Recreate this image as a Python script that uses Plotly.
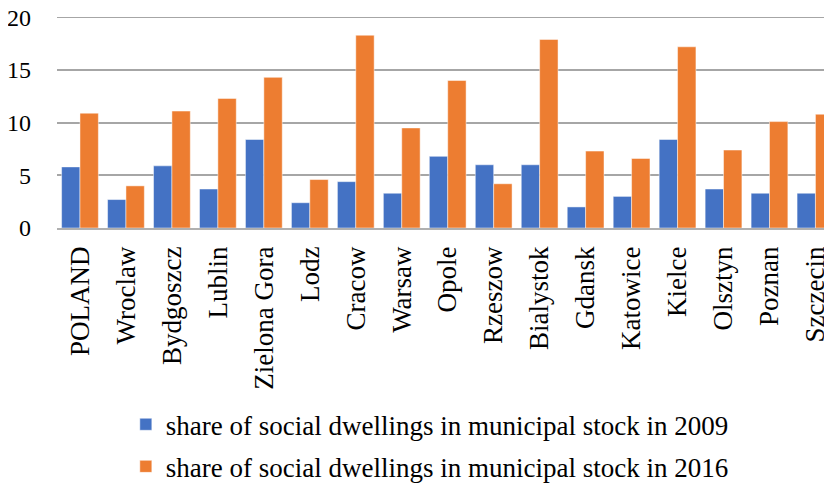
import plotly.graph_objects as go

cities = ["POLAND", "Wroclaw", "Bydgoszcz", "Lublin", "Zielona Gora", "Lodz",
          "Cracow", "Warsaw", "Opole", "Rzeszow", "Bialystok", "Gdansk",
          "Katowice", "Kielce", "Olsztyn", "Poznan", "Szczecin"]
share_2009 = [5.8, 2.7, 5.9, 3.7, 8.4, 2.4, 4.4, 3.3, 6.8, 6.0, 6.0, 2.0,
              3.0, 8.4, 3.7, 3.3, 3.3]
share_2016 = [10.9, 4.0, 11.1, 12.3, 14.3, 4.6, 18.3, 9.5, 14.0, 4.2, 17.9, 7.3,
              6.6, 17.2, 7.4, 10.1, 10.8]
y_ticks = [0, 5, 10, 15, 20]

font_family = "Liberation Serif"

fig = go.Figure()
fig.add_trace(go.Bar(
    x=cities, y=share_2009,
    name="share of social dwellings in municipal stock in 2009",
    legendgroup="a",
    marker=dict(color="#4472C4", line=dict(color="rgba(255,255,255,0.6)", width=0.8)),
))
fig.add_trace(go.Bar(
    x=cities, y=share_2016,
    name="share of social dwellings in municipal stock in 2016",
    legendgroup="b",
    marker=dict(color="#ED7D31", line=dict(color="rgba(255,255,255,0.6)", width=0.8)),
))

# plotly drops the gridline at the very top edge, draw it by hand
fig.add_hline(y=max(y_ticks), line=dict(color="#A6A6A6", width=1.5), layer="below")

# page body has an 8px margin, so the figure is a bit smaller than the window
fig.update_layout(
    width=824, height=476,
    barmode="group", bargap=0.2, bargroupgap=0,
    plot_bgcolor="white", paper_bgcolor="white",
    margin=dict(l=49, r=0, t=9, b=256, autoexpand=False),
    font=dict(family=font_family, color="black"),
    legend=dict(
        orientation="v", xref="container", x=0.143, xanchor="left",
        yref="container", y=0.176, yanchor="top",
        font=dict(size=27, family=font_family), tracegroupgap=4,
        itemwidth=30, bgcolor="rgba(0,0,0,0)",
    ),
)
fig.update_xaxes(
    range=[-0.5, 16.36], tickangle=-90, tickfont=dict(size=27),
    ticks="outside", ticklen=6, tickcolor="rgba(0,0,0,0)",
    ticklabeloverflow="allow",
    showline=True, linecolor="#B0B0B0", linewidth=1.5, automargin=False,
)
fig.update_yaxes(
    range=[0, 20.03], tickmode="array", tickvals=y_ticks, tickfont=dict(size=24),
    showgrid=True, gridcolor="#A6A6A6", gridwidth=1.5,
    ticklabeloverflow="allow",
    zeroline=False, ticklabelstandoff=25, automargin=False,
)

fig.write_html("out.html")
